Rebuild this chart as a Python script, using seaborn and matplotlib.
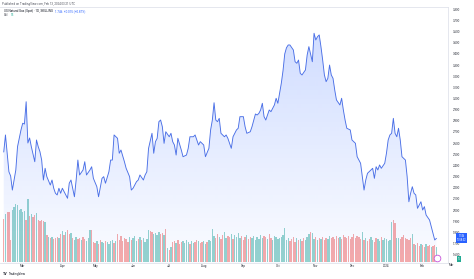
import numpy as np
import pandas as pd
import matplotlib
matplotlib.use("Agg")
import matplotlib.pyplot as plt
import seaborn as sns

# ---------------- data ----------------
holidays = ["2023-02-20", "2023-04-07", "2023-05-29", "2023-06-19", "2023-07-04",
            "2023-09-04", "2023-11-23", "2023-12-25", "2024-01-01", "2024-01-15"]
first_day = "2023-02-13"
last_day = "2024-02-13"

# trading-session number (0 = first session shown) and spot price
line_session = [0, 1, 3, 4, 5, 7, 8, 10, 11, 12, 13, 14, 15, 16, 18, 19, 20, 21, 22, 23,
                24, 25, 27, 28, 29, 30, 31, 32, 33, 34, 36, 37, 38, 39, 40, 41, 42, 43, 44, 46,
                47, 48, 50, 51, 52, 54, 55, 57, 58, 59, 61, 62, 63, 64, 66, 67, 68, 70, 71, 73,
                74, 75, 77, 78, 79, 81, 82, 83, 84, 86, 87, 88, 89, 90, 91, 92, 93, 94, 96, 97,
                98, 99, 100, 101, 103, 104, 106, 107, 108, 110, 111, 113, 114, 116, 117, 119, 120, 121, 122, 123,
                124, 125, 126, 128, 129, 130, 132, 133, 135, 136, 137, 139, 140, 141, 143, 144, 146, 147, 148, 149,
                150, 151, 152, 154, 155, 157, 158, 159, 160, 161, 162, 163, 164, 165, 166, 168, 169, 170, 171, 172,
                173, 175, 176, 177, 179, 180, 181, 182, 183, 184, 185, 186, 187, 188, 189, 190, 191, 192, 193, 195,
                196, 197, 198, 199, 201, 202, 204, 205, 207, 208, 209, 210, 211, 213, 214, 215, 216, 217, 218, 219,
                221, 222, 223, 224, 225, 226, 227, 228, 229, 230, 231, 233, 234, 235, 236, 237, 238, 239, 240, 241,
                242, 243, 244, 245, 247, 248, 249, 250, 251]
line_price = [2.520, 2.673, 2.343, 2.305, 2.179, 2.359, 2.568, 2.718, 2.778, 2.771, 2.971, 2.601, 2.646, 2.568, 2.433, 2.628, 2.568, 2.523, 2.448, 2.269,
              2.374, 2.299, 2.224, 2.269, 2.195, 2.150, 2.135, 2.195, 2.150, 2.195, 2.135, 2.105, 2.240, 2.269, 2.195, 2.119, 2.269, 2.448, 2.314, 2.359,
              2.433, 2.314, 2.359, 2.388, 2.284, 2.209, 2.119, 2.284, 2.299, 2.240, 2.343, 2.448, 2.448, 2.673, 2.643, 2.509, 2.538, 2.433, 2.374, 2.299,
              2.179, 2.195, 2.254, 2.269, 2.314, 2.269, 2.314, 2.343, 2.553, 2.688, 2.509, 2.613, 2.643, 2.792, 2.807, 2.747, 2.598, 2.702, 2.657, 2.688,
              2.613, 2.583, 2.493, 2.643, 2.538, 2.478, 2.493, 2.553, 2.657, 2.657, 2.673, 2.583, 2.613, 2.583, 2.478, 2.553, 2.718, 2.807, 2.962, 2.807,
              2.792, 2.822, 2.688, 2.657, 2.673, 2.643, 2.553, 2.657, 2.718, 2.733, 2.837, 2.837, 2.747, 2.688, 2.702, 2.747, 2.861, 2.852, 2.867, 2.897,
              2.957, 2.837, 2.807, 2.897, 2.882, 2.942, 3.002, 2.957, 3.047, 3.136, 3.250, 3.400, 3.455, 3.480, 3.480, 3.435, 3.330, 3.316, 3.345, 3.226,
              3.211, 3.256, 3.390, 3.465, 3.330, 3.585, 3.525, 3.554, 3.570, 3.465, 3.345, 3.211, 3.151, 3.181, 3.300, 3.211, 3.181, 3.076, 2.987, 2.942,
              3.002, 2.897, 2.807, 2.733, 2.718, 2.628, 2.598, 2.478, 2.419, 2.299, 2.179, 2.269, 2.329, 2.359, 2.374, 2.284, 2.388, 2.359, 2.404, 2.374,
              2.419, 2.509, 2.628, 2.673, 2.688, 2.822, 2.688, 2.657, 2.733, 2.628, 2.478, 2.448, 2.299, 2.074, 2.150, 2.209, 2.150, 2.135, 2.015, 2.045,
              2.074, 2.000, 2.030, 1.955, 1.910, 1.850, 1.791, 1.731, 1.746]

# daily volume (one per session, 252 sessions)
volume = [43, 48, 50, 50, 22, 52, 55, 58, 57, 52, 53, 50, 51, 42, 63, 46, 48, 45, 47, 49,
          42, 41, 42, 41, 40, 27, 25, 24, 25, 23, 24, 25, 24, 28, 31, 27, 30, 32, 28, 29,
          24, 22, 25, 23, 24, 22, 25, 23, 21, 24, 32, 32, 20, 19, 21, 18, 22, 20, 19, 21,
          20, 18, 21, 22, 19, 21, 28, 22, 26, 21, 24, 23, 20, 25, 22, 24, 26, 21, 23, 25,
          22, 24, 20, 23, 32, 31, 30, 28, 29, 27, 30, 28, 29, 27, 33, 14, 12, 15, 20, 21,
          19, 22, 18, 20, 21, 19, 22, 20, 18, 21, 19, 20, 22, 21, 19, 20, 21, 18, 20, 22,
          21, 33, 26, 24, 28, 25, 23, 27, 30, 24, 26, 25, 28, 23, 27, 25, 29, 24, 26, 22,
          25, 27, 23, 25, 24, 26, 22, 25, 23, 27, 24, 26, 25, 23, 28, 24, 22, 26, 25, 23,
          24, 25, 27, 34, 22, 24, 21, 23, 25, 20, 24, 22, 23, 21, 24, 22, 25, 28, 30, 29,
          23, 25, 22, 24, 23, 25, 22, 24, 23, 26, 24, 25, 23, 26, 24, 25, 23, 27, 25, 24,
          26, 23, 25, 28, 24, 26, 25, 23, 30, 22, 24, 21, 23, 25, 22, 20, 24, 23, 21, 25,
          22, 24, 23, 21, 22, 40, 42, 39, 24, 24, 23, 25, 27, 24, 23, 22, 24, 28, 18, 17,
          19, 16, 18, 17, 15, 18, 16, 17, 15, 16, 17, 15]
volume_dir = ("duddduuuuu" "uuudududdu" "ddddududud" "ddudududdu" "duuddudduu"
              "udddudduud" "uuuududddd" "ddduduuudu" "duuuudduuu" "uddudududd"
              "uddduuuudu" "uddudduudu" "uuuddudduu" "dduduuuudd" "dudduuuuuu"
              "uddudduuuu" "uuuuuudddd" "ududduuudu" "udududdduu" "dddddudddd"
              "ddddddddud" "udduudduud" "uuuuuudduu" "dddddddudu" "ddudduddud" "du")

price_ticks = [1.6, 1.7, 1.8, 1.9, 2.0, 2.1, 2.2, 2.3, 2.4, 2.5, 2.6, 2.7, 2.8,
               2.9, 3.0, 3.1, 3.2, 3.3, 3.4, 3.5, 3.6, 3.7, 3.8]
month_labels = ["Mar", "Apr", "May", "Jun", "Jul", "Aug", "Sep", "Oct", "Nov", "Dec", "2024", "Feb"]
month_starts = ["2023-03-01", "2023-04-01", "2023-05-01", "2023-06-01", "2023-07-01", "2023-08-01",
                "2023-09-01", "2023-10-01", "2023-11-01", "2023-12-01", "2024-01-01", "2024-02-01"]

# ---------------- build ----------------
sessions = pd.bdate_range(first_day, last_day)
sessions = sessions[~sessions.isin(pd.to_datetime(holidays))]
n = len(sessions)
tick_pos = [int(np.searchsorted(sessions.values, np.datetime64(m))) for m in month_starts]

vol_df = pd.DataFrame({"session": np.arange(n), "volume": volume[:n], "dir": list(volume_dir[:n])})

sns.set_theme(style="white")
plt.rcParams["font.family"] = ["Roboto", "DejaVu Sans"]

W, H = 474, 279
fig = plt.figure(figsize=(W / 100, H / 100), dpi=100)
fig.patch.set_facecolor("white")
ax_l, ax_r, ax_t, ax_b = 0, 448, 7, 263
ax = fig.add_axes([ax_l / W, (H - ax_b) / H, (ax_r - ax_l) / W, (ax_b - ax_t) / H])
axv = ax.twinx()
axv.set_zorder(1)
ax.set_zorder(2)
ax.patch.set_visible(False)

# volume bars
sns.barplot(data=vol_df, x="session", y="volume", hue="dir", ax=axv, native_scale=True,
            dodge=False, errorbar=None, legend=False, width=0.78, saturation=1,
            palette={"u": "#96d4ce", "d": "#f7abaa"}, linewidth=0)
axv.set_ylim(-1.3, 256)
axv.set_yticks([])
axv.set_ylabel("")
for s in axv.spines.values():
    s.set_visible(False)

# price line with gradient area
xlim = (-2.17, 257.7)
ylim = (1.5247, 3.8206)
sns.lineplot(x=line_session, y=line_price, ax=ax, color="#4a6fe6", linewidth=0.65, zorder=3)
grad = np.zeros((256, 1, 4))
grad[..., 0] = 41 / 255
grad[..., 1] = 98 / 255
grad[..., 2] = 1.0
grad[:, 0, 3] = np.linspace(0.02, 0.24, 256)
im = ax.imshow(grad, extent=[xlim[0], xlim[1], ylim[0], ylim[1]], origin="lower",
               aspect="auto", zorder=1, interpolation="bilinear")
poly = ax.fill_between(line_session, line_price, ylim[0], facecolor="none", edgecolor="none")
im.set_clip_path(poly.get_paths()[0], transform=ax.transData)
ax.set_xlim(*xlim)
ax.set_ylim(*ylim)
axv.set_xlim(*xlim)

txt_col = "#2a2e39"
ax.yaxis.tick_right()
ax.set_yticks(price_ticks)
ax.set_yticklabels([f"{t:.3f}" for t in price_ticks])
ax.tick_params(axis="y", length=0, pad=3.6, labelsize=2.2, labelcolor=txt_col)
ax.set_xticks(tick_pos)
ax.set_xticklabels(month_labels)
ax.tick_params(axis="x", length=0, pad=0.8, labelsize=2.2, labelcolor=txt_col)
ax.set_xlabel("")
ax.set_ylabel("")
ax.grid(False)
for k, s in ax.spines.items():
    s.set_color("#e0e3eb")
    s.set_linewidth(0.6)
ax.spines["left"].set_visible(False)

# last price label
last = line_price[-1]
prev = line_price[-2]
chg = last - prev
ax.annotate(f"{last:.3f}\n10:58:32", xy=(461.5 / 448, last), xycoords=("axes fraction", "data"),
            ha="center", va="center", fontsize=1.8, color="white", linespacing=1.1,
            bbox=dict(boxstyle="square,pad=0.35", fc="#2962ff", ec="none"),
            annotation_clip=False, zorder=10)
fig.text(459 / W, 1 - 259.3 / H, f"{volume[-1]}", ha="center", va="center", fontsize=1.8,
         color="white", bbox=dict(boxstyle="square,pad=0.35", fc="#22ab94", ec="none"))
fig.text(451 / W, 1 - 265.5 / H, "Mar", ha="center", va="center", fontsize=2.2, color=txt_col)

# event marker
ax.plot([436.7 / 448], [(263 - 258.3) / 256], transform=ax.transAxes, marker="o", ms=4.8,
        mfc="white", mec="#c653d9", mew=0.6, clip_on=False, zorder=6)

# header texts
fig.text(2 / W, 1 - 4 / H, "Published on TradingView.com, Feb 13, 2024 03:21 UTC",
         fontsize=2.1, color="#50535e", va="center", ha="left")
t1 = fig.text(4 / W, 1 - 11 / H, "US Natural Gas (Spot) \u00b7 1D, SKILLING", fontsize=2.2,
              color="#131722", va="center", ha="left")
t2 = fig.text(4 / W, 1 - 15.5 / H, "Vol", fontsize=2.2, color="#131722", va="center", ha="left")
fig.canvas.draw()
r = fig.canvas.get_renderer()
bb1 = t1.get_window_extent(r)
bb2 = t2.get_window_extent(r)
sign = "+" if chg >= 0 else "\u2212"
fig.text((bb1.x1 + 2) / W, 1 - 11 / H,
         f"{last:.3f}  {sign}{abs(chg):.3f} ({sign}{abs(chg) / prev * 100:.2f}%)",
         fontsize=2.2, color="#2962ff", va="center", ha="left")
fig.text((bb2.x1 + 2) / W, 1 - 15.5 / H, f"{volume[-1]}", fontsize=2.2, color="#22ab94",
         va="center", ha="left")

# footer logo
fig.text(3 / W, 1 - 274 / H, "TV", fontsize=2.6, color="#131722", weight="bold", va="center")
fig.text(9 / W, 1 - 274 / H, "TradingView", fontsize=2.2, color="#131722", va="center")

fig.savefig("out.png", dpi=100, facecolor="white")
